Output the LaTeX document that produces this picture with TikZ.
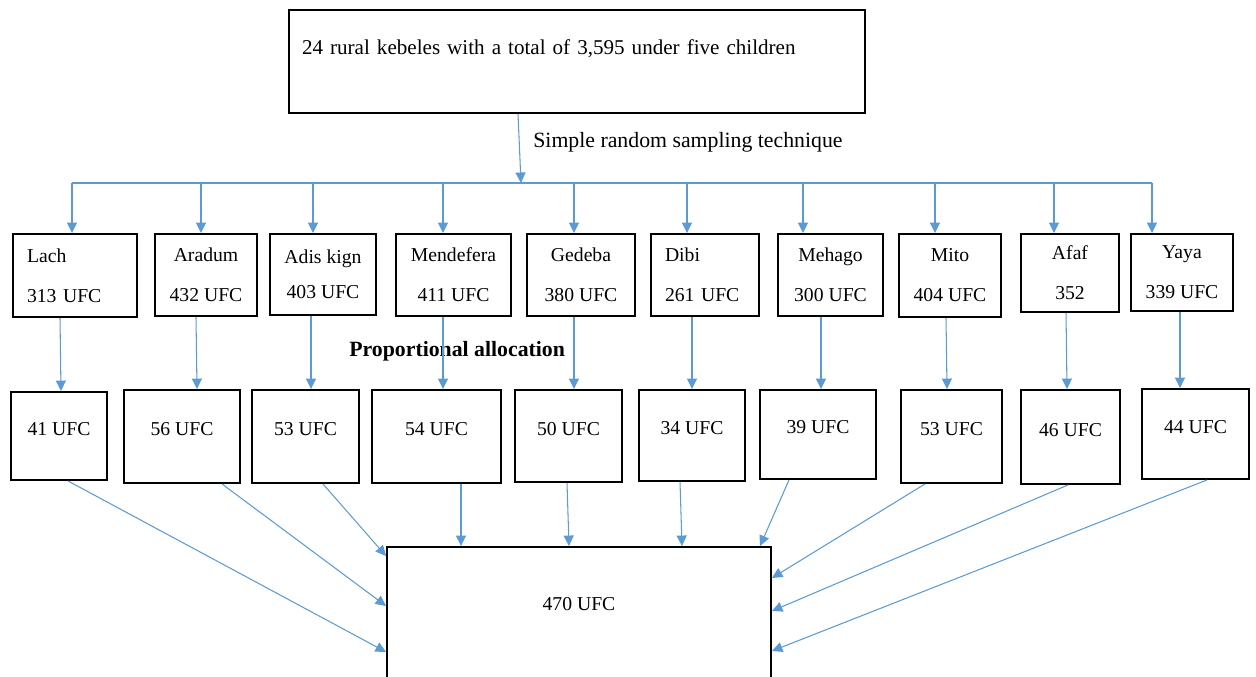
\documentclass[tikz,border=0pt]{standalone}
\usepackage{fontspec}
\setmainfont{Liberation Serif}
\usepackage{xcolor}
\usepackage{tikz}
\usetikzlibrary{arrows.meta}

\definecolor{arrowblue}{HTML}{5B9BD5}

\begin{document}
\begin{tikzpicture}[x=0.02cm, y=-0.02cm,
  font=\fontsize{11.2}{22.7}\selectfont,
  box/.style={rectangle, draw, line width=1.1pt, align=center, inner sep=0.1cm},
  lowbox/.style={box, text height=8pt, text depth=9pt},
  arr/.style={draw=arrowblue, line width=0.6pt, -{Triangle[length=0.21cm, width=0.2cm]}},
  busline/.style={draw=arrowblue, line width=0.6pt},
  bigtext/.style={font=\fontsize{12.4}{15}\selectfont}]
\useasboundingbox (0,0) rectangle (1256,676);

% source population
\node (top) [box, align=left, text width=11cm, inner xsep=0.26cm, minimum height=2.06cm, text height=8pt, text depth=16pt, font=\fontsize{12}{15}\selectfont] at (577,61.5) {24 rural kebeles with a total of 3,595 under five children};
\node (srs) [anchor=west, inner sep=0pt, bigtext] at (533,142) {Simple random sampling technique};
\coordinate (busL) at (72,183);
\coordinate (busR) at (1152,183);

% kebeles
\node (lach) [box, align=left, text width=1.92cm, inner xsep=0.28cm, minimum height=1.66cm] at (75,275.5) {Lach\\313 UFC};
\node (aradum) [box, minimum width=2.04cm, minimum height=1.64cm] at (206,275) {Aradum\\432 UFC};
\node (adis) [box, minimum width=2.12cm, minimum height=1.62cm] at (323,274.5) {Adis kign\\[-2.8pt]403 UFC};
\node (mendefera) [box, minimum width=2.3cm, minimum height=1.64cm] at (453.5,275) {Mendefera\\411 UFC};
\node (gedeba) [box, minimum width=2.16cm, minimum height=1.64cm] at (581,275) {Gedeba\\380 UFC};
\node (dibi) [box, align=left, text width=1.6cm, inner xsep=0.28cm, minimum height=1.64cm] at (705,275) {Dibi\\261 UFC};
\node (mehago) [box, minimum width=2.1cm, minimum height=1.64cm] at (830.5,275) {Mehago\\300 UFC};
\node (mito) [box, minimum width=2.04cm, minimum height=1.66cm] at (950,275.5) {Mito\\404 UFC};
\node (afaf) [box, minimum width=1.96cm, minimum height=1.56cm] at (1070,273) {Afaf\\352};
\node (yaya) [box, minimum width=2.04cm, minimum height=1.54cm] at (1182,272.5) {Yaya\\339 UFC};

\node (prop) [anchor=west, inner sep=0pt, bigtext] at (349,351) {\bfseries Proportional allocation};

% samples
\node (lach2) [lowbox, minimum width=1.92cm, minimum height=1.76cm] at (59,436) {41 UFC};
\node (aradum2) [lowbox, minimum width=2.32cm, minimum height=1.86cm] at (182,436.5) {56 UFC};
\node (adis2) [lowbox, minimum width=2.14cm, minimum height=1.86cm] at (305.5,436.5) {53 UFC};
\node (mendefera2) [lowbox, minimum width=2.58cm, minimum height=1.86cm] at (436.5,436.5) {54 UFC};
\node (gedeba2) [lowbox, minimum width=2.14cm, minimum height=1.84cm] at (568.5,436) {50 UFC};
\node (dibi2) [lowbox, minimum width=2.12cm, minimum height=1.82cm] at (692,435.5) {34 UFC};
\node (mehago2) [lowbox, minimum width=2.32cm, minimum height=1.78cm] at (818,434.5) {39 UFC};
\node (mito2) [lowbox, minimum width=2.02cm, minimum height=1.86cm] at (951.5,436.5) {53 UFC};
\node (afaf2) [lowbox, minimum width=1.98cm, minimum height=1.88cm] at (1070.5,437) {46 UFC};
\node (yaya2) [lowbox, minimum width=2.14cm, minimum height=1.8cm] at (1195.5,434) {44 UFC};

% total sample
\node (total) [box, minimum width=7.68cm, minimum height=3.46cm, text height=8pt, text depth=34pt] at (579,633.5) {470 UFC};

\draw[arr] (top.south -| 518,0) -- (busL -| 521,0);
\draw[busline] (busL) -- (busR);

\draw[arr] (busL -| 72,0) -- (lach.north -| 72,0);
\draw[arr] (busL -| 201,0) -- (aradum.north -| 201,0);
\draw[arr] (busL -| 313,0) -- (adis.north -| 313,0);
\draw[arr] (busL -| 443,0) -- (mendefera.north -| 443,0);
\draw[arr] (busL -| 574,0) -- (gedeba.north -| 574,0);
\draw[arr] (busL -| 687,0) -- (dibi.north -| 687,0);
\draw[arr] (busL -| 803,0) -- (mehago.north -| 803,0);
\draw[arr] (busL -| 935,0) -- (mito.north -| 935,0);
\draw[arr] (busL -| 1054,0) -- (afaf.north -| 1054,0);
\draw[arr] (busR) -- (yaya.north -| 1152,0);

\draw[arr] (lach.south -| 60,0) -- (lach2.north -| 61,0);
\draw[arr] (aradum.south -| 196,0) -- (aradum2.north -| 197,0);
\draw[arr] (adis.south -| 311,0) -- (adis2.north -| 311,0);
\draw[arr] (mendefera.south -| 443,0) -- (mendefera2.north -| 443,0);
\draw[arr] (gedeba.south -| 574,0) -- (gedeba2.north -| 574,0);
\draw[arr] (dibi.south -| 692,0) -- (dibi2.north -| 692,0);
\draw[arr] (mehago.south -| 821,0) -- (mehago2.north -| 821,0);
\draw[arr] (mito.south -| 946,0) -- (mito2.north -| 947,0);
\draw[arr] (afaf.south -| 1066,0) -- (afaf2.north -| 1067,0);
\draw[arr] (yaya.south -| 1180,0) -- (yaya2.north -| 1180,0);

\draw[arr] (lach2.south -| 68,0) -- (total.west |- 0,652);
\draw[arr] (aradum2.south -| 222,0) -- (total.west |- 0,606);
\draw[arr] (adis2.south -| 323,0) -- (total.west |- 0,556);
\draw[arr] (mendefera2.south -| 461,0) -- (total.north -| 461,0);
\draw[arr] (gedeba2.south -| 567,0) -- (total.north -| 569,0);
\draw[arr] (dibi2.south -| 680,0) -- (total.north -| 682,0);
\draw[arr] (mehago2.south -| 789,0) -- (total.north -| 760,0);
\draw[arr] (mito2.south -| 925,0) -- (total.east |- 0,578);
\draw[arr] (afaf2.south -| 1068,0) -- (total.east |- 0,611);
\draw[arr] (yaya2.south -| 1207,0) -- (total.east |- 0,651);
\end{tikzpicture}
\end{document}
